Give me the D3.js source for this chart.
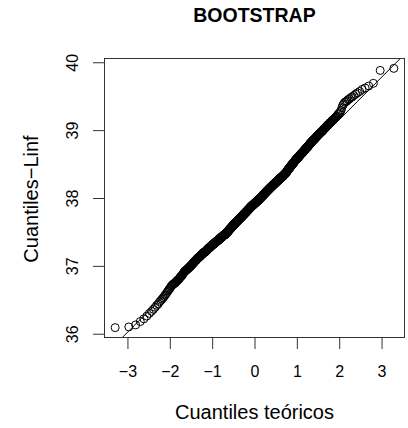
<!DOCTYPE html>
<html>
<head>
<meta charset="utf-8">
<script src="https://cdn.jsdelivr.net/npm/d3@7"></script>
<style>
  body { margin: 0; background: #fff; }
  svg { display: block; }
  text { font-family: "Liberation Sans", Arial, Helvetica, sans-serif; fill: #000; }
</style>
</head>
<body>
<script>
// Labels and ticks
const chartTitle = "BOOTSTRAP";
const xLabel = "Cuantiles teóricos";
const yLabel = "Cuantiles\u2212Linf";
const xTicks = [-3, -2, -1, 0, 1, 2, 3];
const yTicks = [36, 37, 38, 39, 40];

// Sorted bootstrap replicates of Linf (n = 1000)
const linf = [
  36.09,36.10,36.13,36.18,36.22,36.26,36.30,36.33,36.36,36.39,36.42,36.44,36.47,36.49,36.51,36.53,36.55,36.57,36.59,36.61,36.63,36.65,36.66,36.68,36.70,
  36.71,36.72,36.73,36.74,36.74,36.75,36.76,36.77,36.78,36.79,36.79,36.80,36.81,36.82,36.83,36.84,36.85,36.85,36.86,36.87,36.88,36.89,36.90,36.91,36.92,
  36.92,36.93,36.93,36.94,36.94,36.95,36.95,36.96,36.96,36.97,36.97,36.98,36.98,36.99,36.99,37.00,37.00,37.01,37.01,37.02,37.02,37.03,37.03,37.04,37.04,
  37.05,37.05,37.06,37.06,37.07,37.07,37.08,37.08,37.08,37.09,37.09,37.10,37.10,37.11,37.11,37.11,37.12,37.12,37.12,37.13,37.13,37.13,37.14,37.14,37.14,
  37.15,37.15,37.15,37.16,37.16,37.16,37.17,37.17,37.17,37.18,37.18,37.18,37.19,37.19,37.19,37.19,37.20,37.20,37.20,37.20,37.21,37.21,37.21,37.21,37.21,
  37.22,37.22,37.22,37.23,37.23,37.23,37.24,37.24,37.24,37.25,37.25,37.25,37.25,37.26,37.26,37.26,37.26,37.27,37.27,37.27,37.27,37.28,37.28,37.28,37.28,
  37.29,37.29,37.29,37.29,37.30,37.30,37.30,37.30,37.31,37.31,37.31,37.31,37.31,37.32,37.32,37.32,37.32,37.32,37.33,37.33,37.33,37.33,37.33,37.34,37.34,
  37.34,37.34,37.34,37.35,37.35,37.35,37.35,37.35,37.36,37.36,37.36,37.36,37.36,37.37,37.37,37.37,37.37,37.37,37.38,37.38,37.38,37.38,37.38,37.39,37.39,
  37.39,37.39,37.39,37.39,37.40,37.40,37.40,37.40,37.40,37.41,37.41,37.41,37.41,37.41,37.42,37.42,37.42,37.42,37.42,37.42,37.43,37.43,37.43,37.43,37.43,
  37.44,37.44,37.44,37.44,37.44,37.44,37.45,37.45,37.45,37.45,37.45,37.45,37.46,37.46,37.46,37.46,37.46,37.46,37.46,37.47,37.47,37.47,37.47,37.47,37.47,
  37.48,37.48,37.48,37.48,37.49,37.49,37.49,37.49,37.49,37.50,37.50,37.50,37.50,37.50,37.51,37.51,37.51,37.51,37.51,37.52,37.52,37.52,37.52,37.53,37.53,
  37.53,37.53,37.54,37.54,37.54,37.54,37.54,37.55,37.55,37.55,37.55,37.55,37.56,37.56,37.56,37.56,37.56,37.57,37.57,37.57,37.57,37.57,37.58,37.58,37.58,
  37.58,37.58,37.59,37.59,37.59,37.59,37.59,37.60,37.60,37.60,37.60,37.60,37.61,37.61,37.61,37.61,37.61,37.61,37.62,37.62,37.62,37.62,37.62,37.62,37.63,
  37.63,37.63,37.63,37.63,37.64,37.64,37.64,37.64,37.64,37.65,37.65,37.65,37.65,37.65,37.66,37.66,37.66,37.66,37.66,37.66,37.67,37.67,37.67,37.67,37.67,
  37.68,37.68,37.68,37.68,37.68,37.68,37.69,37.69,37.69,37.69,37.69,37.69,37.70,37.70,37.70,37.70,37.70,37.70,37.71,37.71,37.71,37.71,37.71,37.71,
  37.72,37.72,37.72,37.72,37.72,37.72,37.73,37.73,37.73,37.73,37.73,37.73,37.74,37.74,37.74,37.74,37.74,37.74,37.75,37.75,37.75,37.75,37.75,37.75,
  37.76,37.76,37.76,37.76,37.76,37.76,37.77,37.77,37.77,37.77,37.77,37.77,37.78,37.78,37.78,37.78,37.78,37.78,37.79,37.79,37.79,37.79,37.79,37.79,
  37.80,37.80,37.80,37.80,37.80,37.80,37.81,37.81,37.81,37.81,37.81,37.81,37.82,37.82,37.82,37.82,37.82,37.82,37.83,37.83,37.83,37.83,37.83,37.83,
  37.84,37.84,37.84,37.84,37.84,37.84,37.85,37.85,37.85,37.85,37.85,37.85,37.86,37.86,37.86,37.86,37.86,37.86,37.87,37.87,37.87,37.87,37.87,37.87,
  37.88,37.88,37.88,37.88,37.88,37.88,37.88,37.89,37.89,37.89,37.89,37.89,37.89,37.89,37.90,37.90,37.90,37.90,37.90,37.90,37.90,
  37.91,37.91,37.91,37.91,37.91,37.91,37.91,37.92,37.92,37.92,37.92,37.92,37.92,37.92,37.93,37.93,37.93,37.93,37.93,37.93,37.93,
  37.94,37.94,37.94,37.94,37.94,37.94,37.94,37.95,37.95,37.95,37.95,37.95,37.95,37.95,37.96,37.96,37.96,37.96,37.96,37.96,37.96,
  37.97,37.97,37.97,37.97,37.97,37.97,37.97,
  37.98,37.98,37.98,37.98,37.98,37.98,37.99,37.99,37.99,37.99,37.99,37.99,38.00,38.00,38.00,38.00,38.00,38.00,38.01,38.01,38.01,38.01,38.01,38.01,
  38.02,38.02,38.02,38.02,38.02,38.02,38.03,38.03,38.03,38.03,38.03,38.03,38.04,38.04,38.04,38.04,38.04,38.04,38.05,38.05,38.05,38.05,38.05,38.05,
  38.06,38.06,38.06,38.06,38.06,38.06,38.07,38.07,38.07,38.07,38.07,38.07,38.08,38.08,38.08,38.08,38.08,38.08,38.09,38.09,38.09,38.09,38.09,38.09,
  38.10,38.10,38.10,38.10,38.10,38.10,38.11,38.11,38.11,38.11,38.11,38.11,38.12,38.12,38.12,38.12,38.12,38.12,38.13,38.13,38.13,38.13,38.13,38.13,
  38.14,38.14,38.14,38.14,38.14,38.14,38.15,38.15,38.15,38.15,38.15,38.15,38.16,38.16,38.16,38.16,38.16,38.16,38.17,38.17,38.17,38.17,38.17,38.17,
  38.18,38.18,38.18,38.18,38.18,38.18,38.19,38.19,38.19,38.19,38.19,38.19,38.20,38.20,38.20,38.20,38.20,38.20,38.21,38.21,38.21,38.21,38.21,38.21,
  38.22,38.22,38.22,38.22,38.22,38.22,38.23,38.23,38.23,38.23,38.23,38.23,38.24,38.24,38.24,38.24,38.24,38.24,38.25,38.25,38.25,38.25,38.25,38.25,
  38.26,38.26,38.26,38.26,38.26,38.26,38.27,38.27,38.27,38.27,38.27,38.27,38.28,38.28,38.28,38.28,38.28,38.28,38.29,38.29,38.29,38.29,38.29,38.29,
  38.30,38.30,38.30,38.30,38.30,38.30,38.31,38.31,38.31,38.31,38.31,38.31,38.32,38.32,38.32,38.32,38.32,38.32,
  38.33,38.33,38.33,38.33,38.34,38.34,38.34,38.34,38.34,38.35,38.35,38.35,38.35,38.35,38.36,38.36,38.36,38.36,38.36,38.37,38.37,38.37,38.37,38.38,38.38,
  38.38,38.39,38.39,38.39,38.40,38.40,38.40,38.41,38.41,38.41,38.41,38.42,38.42,38.42,38.43,38.43,38.43,38.43,38.44,38.44,38.44,38.45,38.45,38.45,38.45,
  38.46,38.46,38.46,38.47,38.47,38.47,38.48,38.48,38.48,38.48,38.49,38.49,38.49,38.50,38.50,38.50,38.50,38.51,38.51,38.51,38.52,38.52,38.52,38.52,38.53,
  38.53,38.53,38.54,38.54,38.54,38.55,38.55,38.55,38.56,38.56,38.56,38.56,38.57,38.57,38.57,38.58,38.58,38.58,38.58,38.59,38.59,38.59,38.59,38.60,38.60,
  38.60,38.61,38.61,38.61,38.62,38.62,38.62,38.63,38.63,38.63,38.64,38.64,38.64,38.65,38.65,38.65,38.66,38.66,38.66,38.66,38.67,38.67,38.67,38.68,38.68,
  38.68,38.69,38.69,38.69,38.70,38.70,38.71,38.71,38.71,38.72,38.72,38.72,38.73,38.73,38.74,38.74,38.74,38.75,38.75,38.75,38.76,38.76,38.76,38.77,38.77,
  38.78,38.78,38.79,38.79,38.80,38.80,38.81,38.81,38.81,38.82,38.82,38.83,38.83,38.84,38.84,38.84,38.85,38.85,38.86,38.86,38.86,38.87,38.87,38.88,38.88,
  38.89,38.89,38.90,38.90,38.91,38.91,38.92,38.92,38.93,38.93,38.94,38.94,38.95,38.95,38.96,38.96,38.97,38.97,38.98,38.98,38.99,38.99,39.00,39.01,39.02,
  39.02,39.03,39.03,39.04,39.05,39.05,39.06,39.07,39.08,39.08,39.09,39.10,39.11,39.11,39.12,39.13,39.14,39.15,39.15,39.16,39.17,39.18,39.19,39.20,39.21,
  39.23,39.24,39.25,39.27,39.29,39.33,39.37,39.39,39.41,39.42,39.43,39.45,39.46,39.48,39.49,39.51,39.53,39.55,39.57,39.60,39.62,39.65,39.69,39.88,39.91
];

// Inverse standard normal CDF (Acklam's rational approximation)
function qnorm(p) {
  const a = [-3.969683028665376e+01, 2.209460984245205e+02, -2.759285104469687e+02, 1.383577518672690e+02, -3.066479806614716e+01, 2.506628277459239e+00];
  const b = [-5.447609879822406e+01, 1.615858368580409e+02, -1.556989798598866e+02, 6.680131188771972e+01, -1.328068155288572e+01];
  const c = [-7.784894002430293e-03, -3.223964580411365e-01, -2.400758277161838e+00, -2.549732539343734e+00, 4.374664141464968e+00, 2.938163982698783e+00];
  const d = [7.784695709041462e-03, 3.224671290700398e-01, 2.445134137142996e+00, 3.754408661907416e+00];
  const pl = 0.02425, ph = 1 - pl;
  let q, r;
  if (p < pl) {
    q = Math.sqrt(-2 * Math.log(p));
    return (((((c[0]*q+c[1])*q+c[2])*q+c[3])*q+c[4])*q+c[5]) / ((((d[0]*q+d[1])*q+d[2])*q+d[3])*q+1);
  }
  if (p > ph) {
    q = Math.sqrt(-2 * Math.log(1 - p));
    return -(((((c[0]*q+c[1])*q+c[2])*q+c[3])*q+c[4])*q+c[5]) / ((((d[0]*q+d[1])*q+d[2])*q+d[3])*q+1);
  }
  q = p - 0.5; r = q * q;
  return (((((a[0]*r+a[1])*r+a[2])*r+a[3])*r+a[4])*r+a[5])*q / (((((b[0]*r+b[1])*r+b[2])*r+b[3])*r+b[4])*r+1);
}

// Normal QQ pairs: theoretical quantile at plotting position (i - 0.5) / n
const sample = linf.slice().sort(d3.ascending);
const n = sample.length;
const pts = sample.map((v, i) => ({ z: qnorm((i + 0.5) / n), v }));

// Reference line through the first and third quartiles
const q1 = d3.quantile(sample, 0.25), q3 = d3.quantile(sample, 0.75);
const slope = (q3 - q1) / (qnorm(0.75) - qnorm(0.25));
const intercept = q1 - slope * qnorm(0.25);

const W = 408, H = 428;
const plot = { left: 104, right: 405, top: 58, bottom: 338 };

function padded(ext) {
  const s = (ext[1] - ext[0]) * 0.04;
  return [ext[0] - s, ext[1] + s];
}
const x = d3.scaleLinear().domain(padded(d3.extent(pts, d => d.z))).range([plot.left, plot.right]);
const y = d3.scaleLinear().domain(padded(d3.extent(pts, d => d.v))).range([plot.bottom, plot.top]);

const svg = d3.select("body").append("svg").attr("width", W).attr("height", H);

svg.append("defs").append("clipPath").attr("id", "plotClip")
  .append("rect")
  .attr("x", plot.left).attr("y", plot.top)
  .attr("width", plot.right - plot.left).attr("height", plot.bottom - plot.top);

// Points
svg.append("g")
  .selectAll("circle")
  .data(pts)
  .join("circle")
  .attr("cx", d => x(d.z))
  .attr("cy", d => y(d.v))
  .attr("r", 4)
  .attr("fill", "none")
  .attr("stroke", "#000")
  .attr("stroke-width", 1);

// QQ line
const xd = x.domain();
svg.append("line")
  .attr("clip-path", "url(#plotClip)")
  .attr("x1", x(xd[0])).attr("y1", y(intercept + slope * xd[0]))
  .attr("x2", x(xd[1])).attr("y2", y(intercept + slope * xd[1]))
  .attr("stroke", "#000").attr("stroke-width", 1);

// Axes
const xAxis = svg.append("g")
  .attr("transform", `translate(0,${plot.bottom})`)
  .call(d3.axisBottom(x).tickValues(xTicks).tickSize(11).tickPadding(0)
    .tickFormat(d => d < 0 ? "\u2212" + Math.abs(d) : String(d)));
xAxis.select(".domain").remove();
xAxis.selectAll(".tick line").attr("stroke", "#333");
xAxis.selectAll(".tick text")
  .attr("y", 38.5).attr("dy", null)
  .style("font-size", "16px");

const yAxis = svg.append("g")
  .attr("transform", `translate(${plot.left},0)`)
  .call(d3.axisLeft(y).tickValues(yTicks).tickSize(11).tickFormat(d3.format("d")));
yAxis.select(".domain").remove();
yAxis.selectAll(".tick line").attr("stroke", "#333");
yAxis.selectAll(".tick text")
  .attr("x", null).attr("dy", null)
  .attr("text-anchor", "middle")
  .attr("transform", "translate(-26,0) rotate(-90)")
  .style("font-size", "16px");

// Plot frame
svg.append("rect")
  .attr("x", plot.left + 0.5).attr("y", plot.top + 0.5)
  .attr("width", plot.right - plot.left - 1).attr("height", plot.bottom - plot.top - 1)
  .attr("fill", "none").attr("stroke", "#333").attr("stroke-width", 1);

// Titles
const cx = (plot.left + plot.right) / 2;
svg.append("text")
  .attr("x", cx).attr("y", 22)
  .attr("text-anchor", "middle")
  .style("font-size", "19.5px").style("font-weight", "bold")
  .text(chartTitle);

svg.append("text")
  .attr("x", cx).attr("y", 419)
  .attr("text-anchor", "middle")
  .style("font-size", "20px")
  .text(xLabel);

svg.append("text")
  .attr("transform", `translate(38,${(plot.top + plot.bottom) / 2 + 1}) rotate(-90)`)
  .attr("text-anchor", "middle")
  .style("font-size", "20px")
  .text(yLabel);
</script>
</body>
</html>
